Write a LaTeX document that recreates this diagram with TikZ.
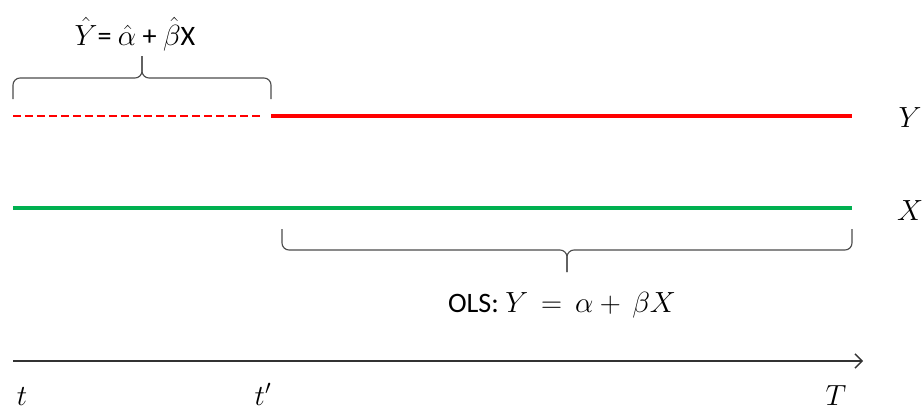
\documentclass[tikz,border=0pt]{standalone}
\usepackage{fontspec}
\setmainfont{Carlito}
\usetikzlibrary{arrows.meta,positioning}
\definecolor{xgreen}{RGB}{0,176,80}

\begin{document}
\begin{tikzpicture}[
  x=0.025cm, y=-0.025cm,
  lbl/.style={font=\fontsize{20}{24}\selectfont, inner sep=0pt, anchor=base},
  brace/.style={draw=black!70, line width=0.8pt, rounded corners=5pt},
  series/.style={line width=2.4pt},
  est/.style={red, line width=0.8pt, dash pattern=on 5.7pt off 2.8pt},
  axis/.style={draw=black!80, line width=1pt, -{Straight Barb[length=5pt,width=10pt]}}
]
\useasboundingbox (0,0) rectangle (923,409);

% series Y and X
\coordinate (ystart) at (13,116);
\coordinate (ycut) at (262,116);
\coordinate (yobs) at (271,116);
\coordinate (yend) at (852,116);
\coordinate (xstart) at (13,208);
\coordinate (xend) at (852,208);
\draw[est] (ystart) -- (ycut);
\draw[series, red] (yobs) -- (yend);
\draw[series, xgreen] (xstart) -- (xend);
\node[lbl] (ylab) at (910,127) {$Y$};
\node[lbl] (xlab) at (910,220) {$X$};

% braces
\draw[brace] (13,99) |- (142,78) -- (142,56);
\draw[brace] (271,99) |- (142,78) -- (142,56);
\node[lbl] (fit) at (135,45) {$\hat{Y}$= $\hat{\alpha}$ + $\hat{\beta}$X};

\draw[brace] (282,229) |- (567,250) -- (567,272);
\draw[brace] (852,229) |- (567,250) -- (567,272);
\node[lbl] (ols) at (562,312) {OLS: $Y\,=\,\alpha+\,\beta X$};

% time axis
\coordinate (tstart) at (13,361);
\coordinate (tend) at (863,361);
\draw[axis] (tstart) -- (tend);
\node[lbl] (tlab) at (22,405) {$t$};
\node[lbl] (tplab) at (263,405) {$t'$};
\node[lbl] (Tlab) at (836,405) {$T$};

\end{tikzpicture}
\end{document}
